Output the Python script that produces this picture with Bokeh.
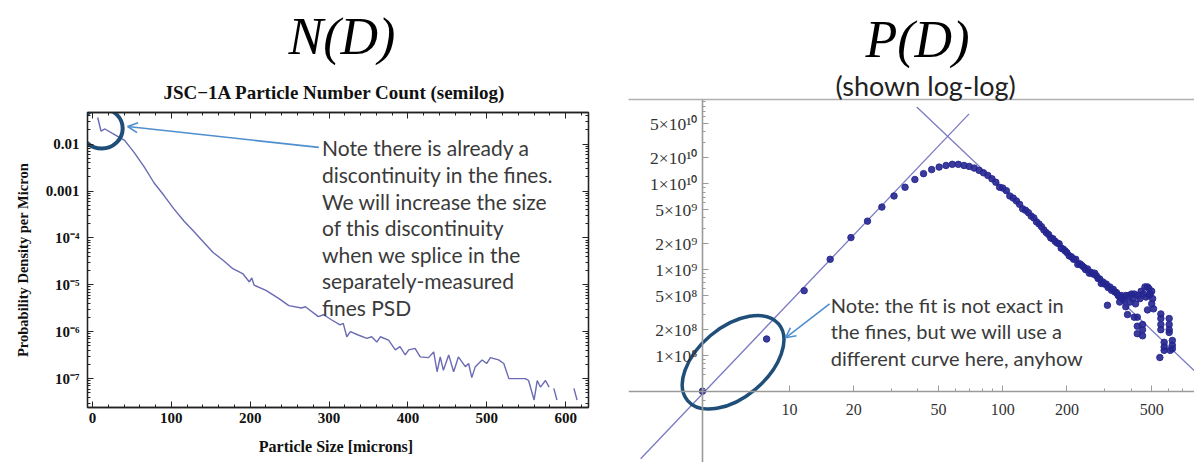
from bokeh.plotting import figure
from bokeh.layouts import row
from bokeh.models import (Range1d, FixedTicker, LinearAxis, LogAxis, Label, Arrow, OpenHead,
                          Title)
from bokeh.embed import file_html
from bokeh.resources import INLINE

nan = float("nan")

# ---------------- N(D): particle number count (semilog) ----------------
nd_size = [6.6, 10.8, 15.8, 28, 40.8, 53, 66, 78, 91, 103, 116, 128, 141, 153, 166, 178, 191,
           199, 202, 205, 220, 237, 249, 265, 270, 286.5, 293, 303, 314, 318, 322.5, 327, 337,
           348, 354, 360.6, 365, 375.5, 384, 390, 396.6, 401, 409, 415.6, 426, 432.7, 437, 441,
           445, 451.7, 458, 464, 472.8, 477, 481, 485.5, 494, 500, 504.6, 515, 521.6, 528, 549,
           553, 560, 564, 568, 574.5, 579, nan, 585, 589, nan, 610.5, 614.5]
nd_density = [3.7e-2, 1.9e-2, 2.1e-2, 1.6e-2, 1.2e-2, 6.6e-3, 3.2e-3, 1.5e-3, 7.9e-4, 4.2e-4,
              2.3e-4, 1.4e-4, 8.1e-5, 4.9e-5, 3.3e-5, 2.2e-5, 1.7e-5,
              1.15e-5, 1.4e-5, 9.8e-6, 7.6e-6, 5.0e-6, 3.6e-6, 3.2e-6, 3.4e-6, 2.1e-6, 2.3e-6,
              1.8e-6, 1.4e-6, 1.5e-6, 7.8e-7, 1.0e-6, 8.5e-7,
              7.2e-7, 7.8e-7, 6.0e-7, 7.8e-7, 6.6e-7, 4.1e-7, 4.8e-7, 3.2e-7, 4.1e-7, 4.4e-7,
              2.9e-7, 2.8e-7, 3.7e-7, 1.4e-7, 2.9e-7,
              1.5e-7, 3.2e-7, 1.4e-7, 2.9e-7, 1.8e-7, 2.1e-7, 1.05e-7, 1.8e-7, 2.5e-7, 2.1e-7,
              2.8e-7, 2.5e-7, 2.1e-7, 1.0e-7, 1.0e-7,
              9.1e-8, 3.5e-8, 9.1e-8, 6.6e-8, 9.1e-8, 6.6e-8, nan, 6.2e-8, 3.5e-8, nan, 6.2e-8, 3.5e-8]

nd_xticks = [0, 100, 200, 300, 400, 500, 600]
nd_yticks = [1e-7, 1e-6, 1e-5, 1e-4, 1e-3, 1e-2]
nd_ylabels = {1e-2: "0.01", 1e-3: "0.001", 1e-4: "10\u207b\u2074", 1e-5: "10\u207b\u2075",
              1e-6: "10\u207b\u2076", 1e-7: "10\u207b\u2077"}

# ---------------- P(D): log-log with power-law fits ----------------
pd_size = [3.9, 7.8, 11.7, 15.5, 19.4, 23.2, 27.1, 30.9, 34.8, 38.7, 42.5, 46.4, 50.3, 54.2, 58.0,
           61.9, 65.8, 69.6, 73.5, 77.4, 81.2, 85.1, 89.0, 92.8, 96.7,
           100, 104, 108, 112, 116, 120, 124, 128, 132, 136, 140, 144, 148, 152, 156, 160, 164,
           168, 172, 176, 180, 184, 188, 192, 196, 200,
           205, 210, 215, 220, 225, 230, 235, 240, 245, 250, 255, 260, 265, 270, 275, 280, 285,
           290, 295, 300,
           306, 310, 312, 318, 324, 330, 336, 342, 348, 354, 354, 360, 366, 372, 378, 378, 385,
           390, 396, 402, 408, 414, 414, 420, 428, 428, 428, 432, 440, 446, 453, 453, 453, 458,
           465, 470, 478, 478, 486, 486, 492, 500, 500, 505, 510, 546, 552, 552, 552, 552, 572,
           572, 572, 604, 604, 604, 604, 611, 625, 625, 625]
pd_density = [3.85e7, 1.56e8, 5.7e8, 1.32e9, 2.36e9, 3.67e9, 5.35e9, 7.2e9, 9.1e9, 1.12e10,
              1.31e10, 1.46e10, 1.56e10, 1.63e10, 1.68e10, 1.68e10, 1.63e10, 1.59e10, 1.52e10,
              1.43e10, 1.34e10, 1.25e10, 1.14e10, 1.04e10, 9.1e9,
              8.9e9, 8.3e9, 7.2e9, 6.8e9, 6.3e9, 5.75e9, 5.1e9, 4.9e9, 4.6e9, 4.2e9, 4.0e9,
              3.6e9, 3.4e9, 3.16e9, 2.9e9, 2.7e9, 2.57e9, 2.34e9, 2.29e9, 2.14e9, 2.04e9,
              2.0e9, 1.78e9, 1.74e9, 1.66e9, 1.58e9,
              1.45e9, 1.41e9, 1.32e9, 1.32e9, 1.15e9, 1.17e9, 1.12e9, 1.07e9, 1.0e9, 1.02e9,
              9.1e8, 9.3e8, 8.9e8, 9.1e8, 8.5e8, 7.9e8, 7.8e8, 6.9e8, 7.2e8, 6.8e8,
              6.8e8, 3.85e8, 6.2e8, 6.3e8, 5.75e8, 5.9e8, 5.5e8, 5.4e8, 5.0e8, 4.8e8, 4.2e8,
              5.0e8, 4.6e8, 4.4e8, 3.7e8, 5.0e8, 3.0e8, 5.0e8, 4.2e8, 5.2e8, 4.6e8, 5.2e8,
              2.8e8, 4.0e8, 2.8e8, 2.2e8, 1.8e8, 5.0e8, 4.6e8, 5.6e8, 2.3e8, 2.0e8, 1.7e8,
              5.2e8, 6.3e8, 4.8e8, 3.4e8, 6.3e8, 6.0e8, 5.0e8, 5.2e8, 4.0e8, 5.6e8, 4.6e8,
              3.5e8, 9.5e7, 3.05e8, 2.7e8, 2.3e8, 2.0e8, 1.43e8, 1.26e8, 1.15e8, 2.7e8, 2.3e8,
              2.0e8, 1.86e8, 1.15e8, 1.5e8, 1.32e8, 1.2e8]

fit_rise_size = [2.0, 69.5]
fit_rise_value = [6.3e6, 6.5e10]
fit_fall_size = [39.5, 791]
fit_fall_value = [7.8e10, 6.7e7]

pd_xticks = [10, 20, 50, 100, 200, 500]
pd_yticks = [1e8, 2e8, 5e8, 1e9, 2e9, 5e9, 1e10, 2e10, 5e10]
pd_ylabels = {1e8: "1\u00d710\u2078", 2e8: "2\u00d710\u2078", 5e8: "5\u00d710\u2078",
              1e9: "1\u00d710\u2079", 2e9: "2\u00d710\u2079", 5e9: "5\u00d710\u2079",
              1e10: "1\u00d710\u00b9\u2070", 2e10: "2\u00d710\u00b9\u2070", 5e10: "5\u00d710\u00b9\u2070"}

SERIF = "Liberation Serif"
SANS = "Lato"
NOTE_COLOR = "#3a3a3a"
RING = "#1f4e79"
ARROW = "#4f8fcf"


def hide_labels(ax):
    ax.major_label_text_font_size = "1px"
    ax.major_label_text_alpha = 0
    ax.major_label_standoff = 0


# ======================= left figure =======================
left = figure(width=600, height=462, y_axis_type="log",
              x_range=Range1d(-6.3, 629), y_range=Range1d(2.42e-8, 0.0472),
              output_backend="svg", toolbar_location=None, frame_align=False,
              min_border_left=87, min_border_right=12, min_border_top=112, min_border_bottom=55)
left.grid.visible = False
left.outline_line_color = "#222222"
left.outline_line_width = 1.3

bottom_ax = left.below[0]
left_ax = left.left[0]
top_ax = LinearAxis()
right_ax = LogAxis()
left.add_layout(top_ax, "above")
left.add_layout(right_ax, "right")
left.add_layout(Title(text="JSC\u22121A Particle Number Count (semilog)", align="left",
                      offset=76, standoff=20, text_font=SERIF, text_font_style="bold",
                      text_font_size="19px", text_color="#111111"), "above")
left.add_layout(Title(text="N(D)", align="left", offset=201, standoff=10, text_font=SERIF,
                      text_font_style="italic", text_font_size="52px", text_color="#000000"),
                "above")

xt = FixedTicker(ticks=nd_xticks, minor_ticks=list(range(0, 621, 20)))
yt = FixedTicker(ticks=nd_yticks,
                 minor_ticks=[k * 10.0 ** e for e in range(-8, -1) for k in range(2, 10)])
for ax in [bottom_ax, top_ax]:
    ax.ticker = xt
for ax in [left_ax, right_ax]:
    ax.ticker = yt
for ax in [bottom_ax, left_ax, top_ax, right_ax]:
    ax.axis_line_color = "#222222"
    ax.axis_line_width = 1.3
    ax.major_tick_in = 6
    ax.major_tick_out = 0
    ax.minor_tick_in = 3
    ax.minor_tick_out = 0
    ax.major_tick_line_color = "#222222"
    ax.minor_tick_line_color = "#222222"
    ax.major_label_text_font = SERIF
    ax.major_label_text_font_style = "bold"
    ax.major_label_text_font_size = "15px"
    ax.major_label_text_color = "#111111"
hide_labels(top_ax)
hide_labels(right_ax)

left_ax.major_label_overrides = nd_ylabels
left_ax.major_label_standoff = 8
left_ax.axis_label = "Probability Density per Micron"
bottom_ax.axis_label = "Particle Size  [microns]"
for ax in [bottom_ax, left_ax]:
    ax.axis_label_text_font = SERIF
    ax.axis_label_text_font_style = "bold"
    ax.axis_label_text_color = "#111111"
left_ax.axis_label_text_font_size = "14.5px"
left_ax.axis_label_standoff = 12
bottom_ax.axis_label_text_font_size = "16px"
bottom_ax.axis_label_standoff = 12

left.line(nd_size, nd_density, line_color="#6a6ab5", line_width=1.4)

note_left = ["Note there is already a", "discontinuity in the fines.",
             "We will increase the size", "of this discontinuity", "when we splice in the",
             "separately-measured", "fines PSD"]
note_left_y = [8.34e-3, 2.26e-3, 6.12e-4, 1.66e-4, 4.49e-5, 1.22e-5, 3.30e-6]
for t, yy in zip(note_left, note_left_y):
    left.add_layout(Label(x=291, y=yy, text=t, text_align="left", text_baseline="middle",
                          text_font=SANS, text_font_size="21px", text_color=NOTE_COLOR))

left.add_layout(Arrow(x_start=287, y_start=8.5e-3, x_end=44.6, y_end=0.0237,
                      line_color=ARROW, line_width=1.6,
                      end=OpenHead(size=10, line_color=ARROW, line_width=1.6)))
left.ellipse(x=[11.7], y=[0.0215], width=42, height=40, width_units="screen",
             height_units="screen", fill_color=None, line_color=RING, line_width=4)

# ======================= right figure =======================
right = figure(width=594, height=462, x_axis_type="log", y_axis_type="log",
               x_range=Range1d(1.754, 794), y_range=Range1d(5.7e6, 9.55e10),
               output_backend="svg", toolbar_location=None, frame_align=False,
               min_border_left=28, min_border_right=0, min_border_top=99, min_border_bottom=0)
right.grid.visible = False
right.outline_line_color = None

rx = right.below[0]
ry = right.left[0]
rx.fixed_location = pd_density[0]
ry.fixed_location = pd_size[0]
rx.ticker = FixedTicker(ticks=pd_xticks,
                        minor_ticks=[30, 40, 60, 70, 80, 90, 300, 400, 600, 700])
ry.ticker = FixedTicker(
    ticks=pd_yticks,
    minor_ticks=[k * 10.0 ** e for e in range(7, 11) for k in (3, 4, 6, 7, 8, 9)])
ry.major_label_overrides = pd_ylabels
for ax in [rx, ry]:
    ax.axis_line_color = "#9a9a9a"
    ax.axis_line_width = 1.6
    ax.major_tick_line_color = "#9a9a9a"
    ax.minor_tick_line_color = "#9a9a9a"
    ax.major_tick_in = 6
    ax.major_tick_out = 0
    ax.minor_tick_in = 3
    ax.minor_tick_out = 0
    ax.major_label_text_font = SERIF
    ax.major_label_text_color = "#333333"
rx.major_label_text_font_size = "16px"
ry.major_label_text_font_size = "17.5px"
rx.major_label_standoff = 13
ry.major_label_standoff = 5

top_line = LogAxis()
right.add_layout(top_line, "above")
top_line.axis_line_color = "#b0b0b0"
top_line.axis_line_width = 1.5
top_line.major_tick_line_color = None
top_line.minor_tick_line_color = None
hide_labels(top_line)
right.add_layout(Title(text="(shown log-log)", align="left", offset=207, standoff=-16,
                       text_font=SANS, text_font_style="normal", text_font_size="27px",
                       text_color="#222222"), "above")
right.add_layout(Title(text="P(D)", align="left", offset=237, standoff=13, text_font=SERIF,
                       text_font_style="italic", text_font_size="52px", text_color="#000000"),
                 "above")

right.line(fit_rise_size, fit_rise_value, line_color="#7a7ac4", line_width=1.3)
right.line(fit_fall_size, fit_fall_value, line_color="#7a7ac4", line_width=1.3)
right.scatter(pd_size, pd_density, size=6.5, color="#262690", alpha=0.9)

note_right = ["Note: the fit is not exact in", "the fines, but we will use a",
              "different curve here, anyhow"]
note_right_y = [3.92e8, 1.92e8, 9.4e7]
for t, yy in zip(note_right, note_right_y):
    right.add_layout(Label(x=15.6, y=yy, text=t, text_align="left", text_baseline="middle",
                           text_font=SANS, text_font_size="20px", text_color=NOTE_COLOR))

right.add_layout(Arrow(x_start=15.4, y_start=3.99e8, x_end=9.57, y_end=1.61e8,
                       line_color=ARROW, line_width=1.6,
                       end=OpenHead(size=10, line_color=ARROW, line_width=1.6)))
right.ellipse(x=[5.43], y=[8.36e7], width=119, height=70, angle=0.70,
              width_units="screen", height_units="screen",
              fill_color=None, line_color=RING, line_width=3.5)

page = row(left, right)
open("out.html", "w").write(file_html(page, INLINE))
